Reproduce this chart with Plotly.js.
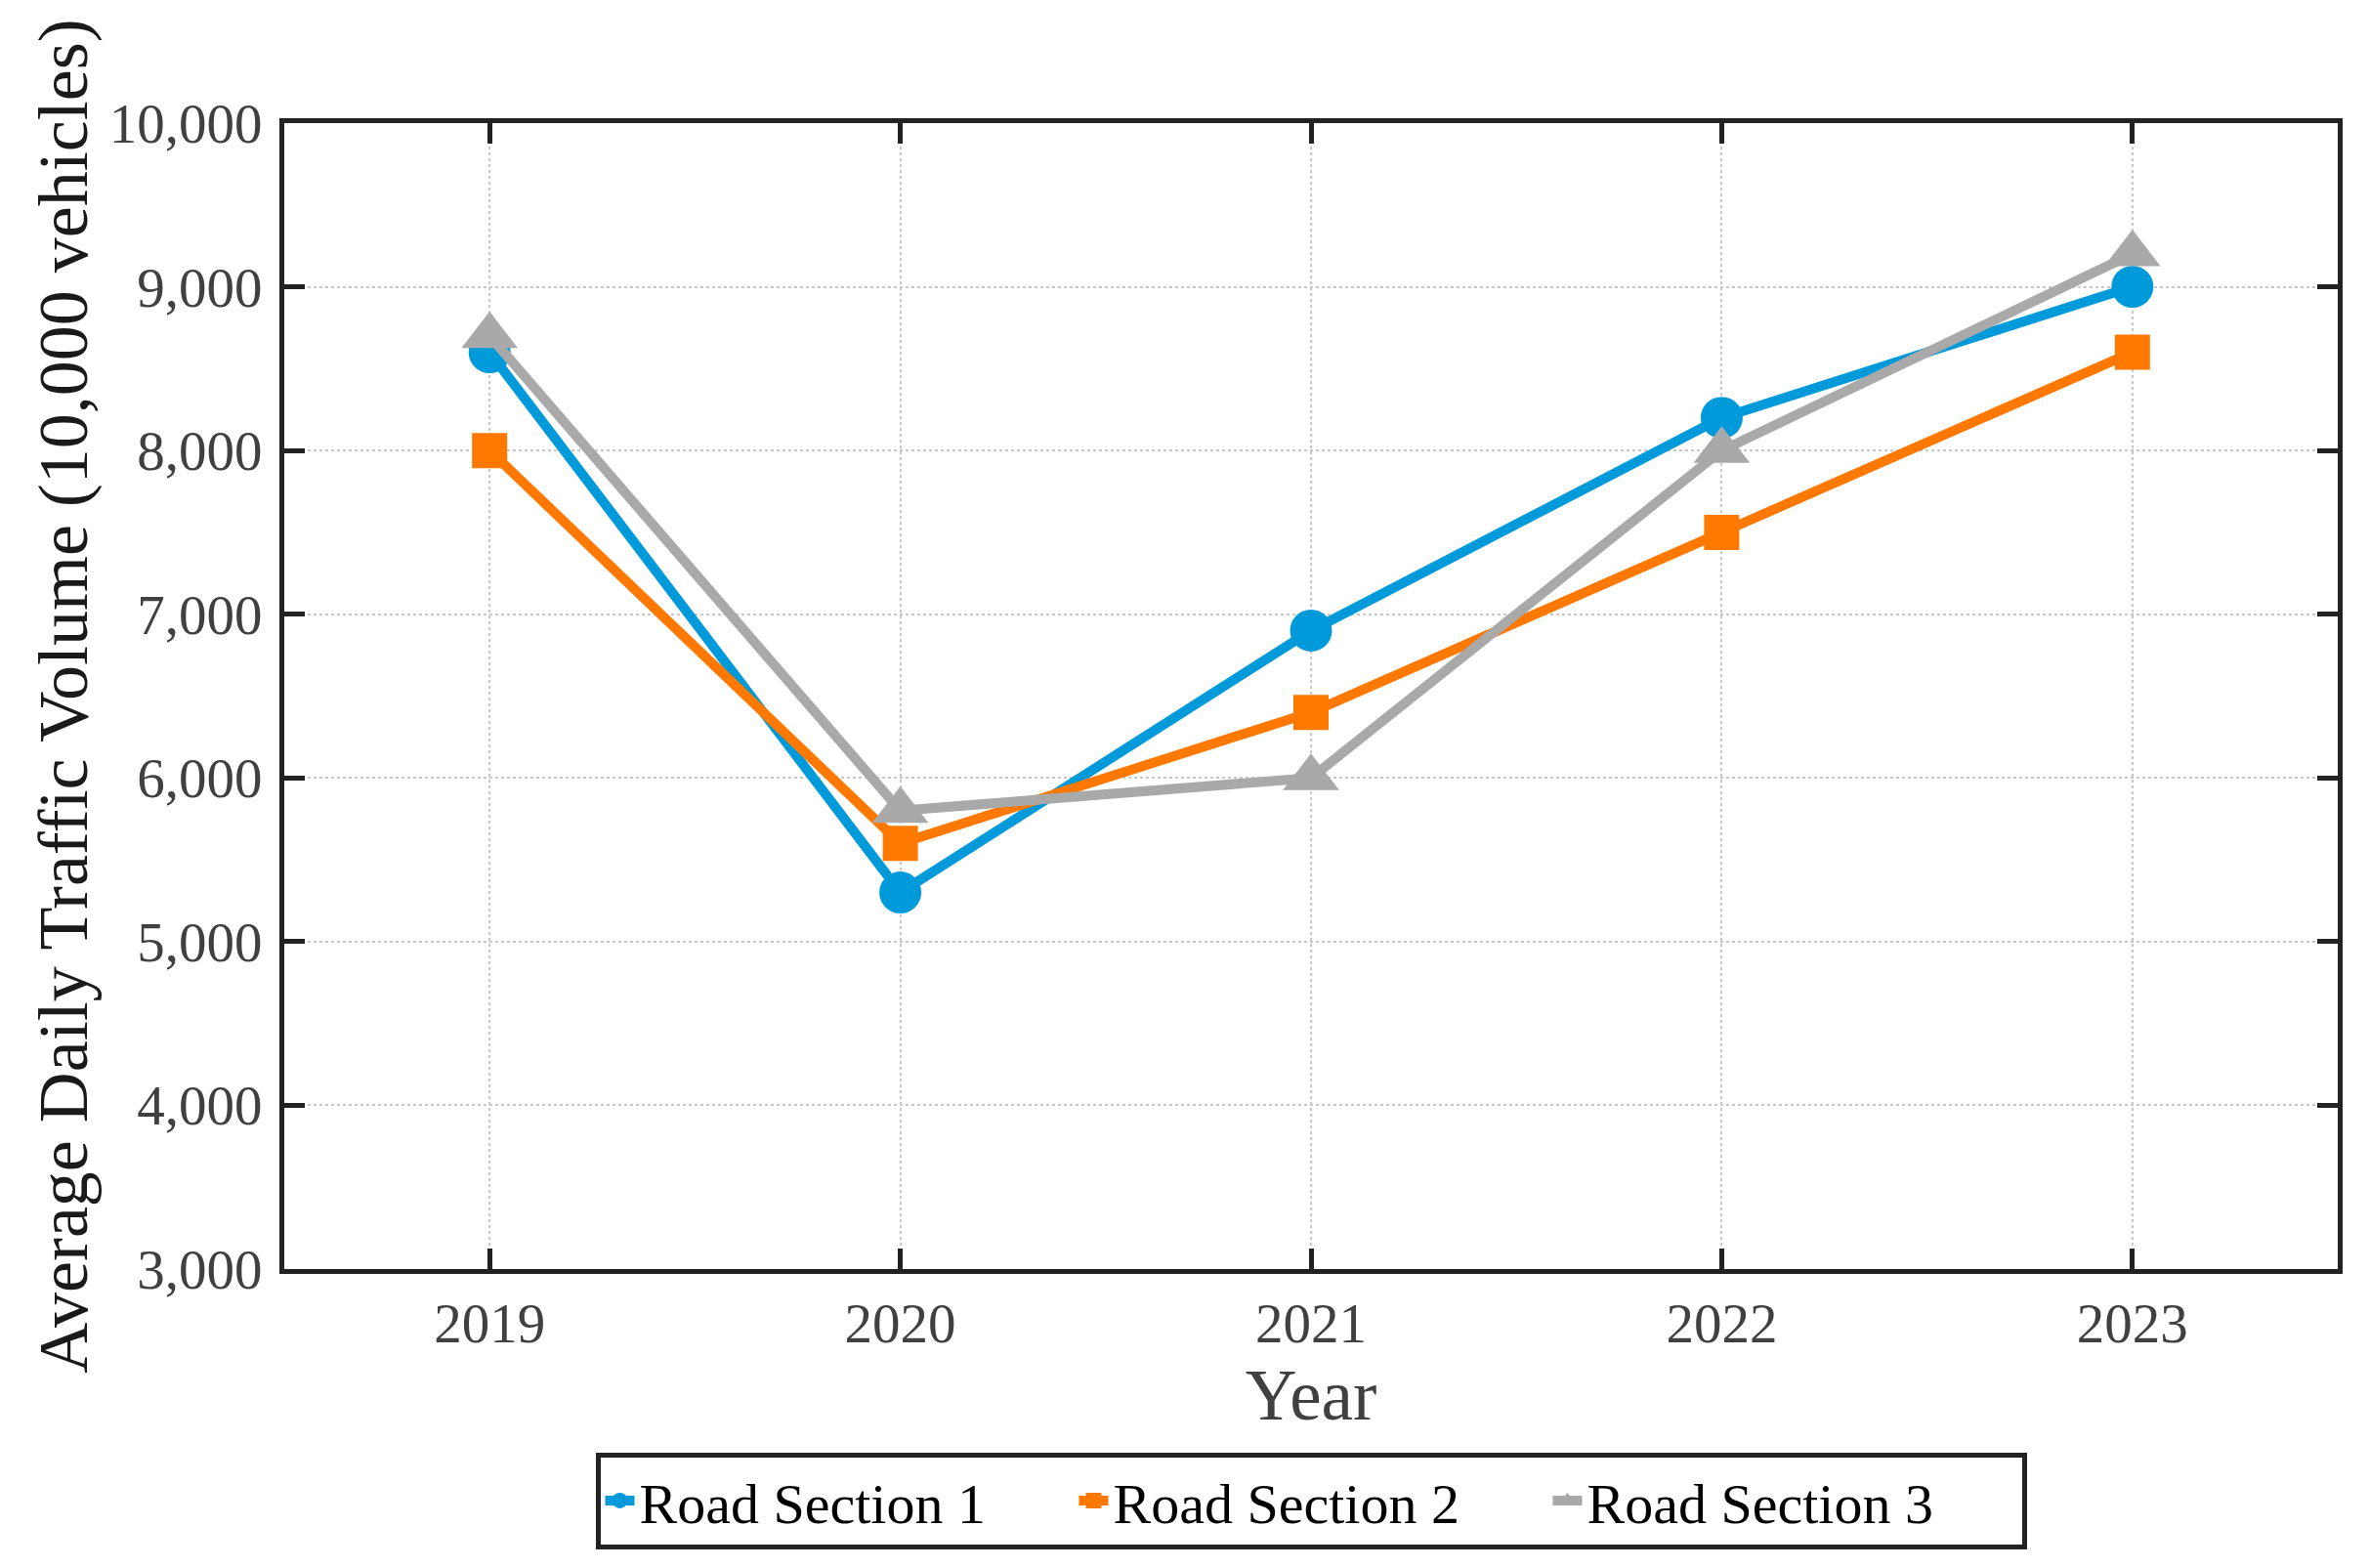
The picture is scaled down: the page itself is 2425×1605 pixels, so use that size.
<!DOCTYPE html>
<html>
<head>
<meta charset="utf-8">
<script src="https://cdn.plot.ly/plotly-3.0.1.min.js"></script>
<style>
	html, body { margin: 0; padding: 0; background: #fff; }
	#chart { width: 2425px; height: 1605px; }
</style>
</head>
<body>
<div id="chart"></div>
<script>
// values
var years = [2019, 2020, 2021, 2022, 2023];
var section1 = [8600, 5300, 6900, 8200, 9000];
var section2 = [8000, 5600, 6400, 7500, 8600];
var section3 = [8700, 5800, 6000, 8000, 9200];
var names = ["Road Section 1", "Road Section 2", "Road Section 3"];
var yTicks = [3000, 4000, 5000, 6000, 7000, 8000, 9000, 10000];

var serif = "Liberation Serif, Times New Roman, serif";

function makeTrace(y, name, color, symbol, size)
{
	return {
		x: years,
		y: y,
		name: name,
		type: "scatter",
		mode: "lines+markers",
		line: { color: color, width: 10 },
		marker: { color: color, symbol: symbol, size: size }
	};
}

var data = [
	makeTrace(section1, names[0], "#009ADA", "circle", 43),
	makeTrace(section2, names[1], "#FF7800", "square", 36),
	makeTrace(section3, names[2], "#A9A9A9", "triangle-up", 50)
];

var axisCommon = {
	showline: true,
	linecolor: "#222222",
	linewidth: 5,
	mirror: "ticks",
	ticks: "inside",
	ticklen: 21,
	tickwidth: 5,
	tickcolor: "#222222",
	showgrid: true,
	gridcolor: "#c8c8c8",
	gridwidth: 2,
	griddash: "dot",
	zeroline: false,
	tickfont: { family: serif, size: 57, color: "#404040" }
};

var layout = {
	width: 2425,
	height: 1605,
	margin: { l: 291, r: 32, t: 126, b: 306 },
	paper_bgcolor: "#ffffff",
	plot_bgcolor: "#ffffff",
	showlegend: true,
	xaxis: Object.assign({}, axisCommon, {
		range: [2018.5, 2023.5],
		tickvals: years,
		tickformat: "d",
		ticklabelstandoff: 2,
		title: { text: "Year", font: { family: serif, size: 73, color: "#404040" }, standoff: 18 }
	}),
	yaxis: Object.assign({}, axisCommon, {
		range: [3000, 10000],
		tickvals: yTicks,
		tickformat: ",d",
		ticklabelstandoff: 6,
		title: { text: "Average Daily Traffic Volume (10,000 vehicles)", font: { family: serif, size: 72, color: "#1a1a1a" }, standoff: 0 }
	}),
	legend: {
		orientation: "h",
		x: 0.5,
		xanchor: "center",
		y: -0.16,
		yanchor: "top",
		bgcolor: "#ffffff",
		bordercolor: "#222222",
		borderwidth: 5,
		font: { family: serif, size: 58, color: "#000000" },
		entrywidth: 440,
		entrywidthmode: "pixels",
		itemsizing: "trace"
	}
};

Plotly.newPlot("chart", data, layout, { displayModeBar: false, staticPlot: true });
</script>
</body>
</html>
